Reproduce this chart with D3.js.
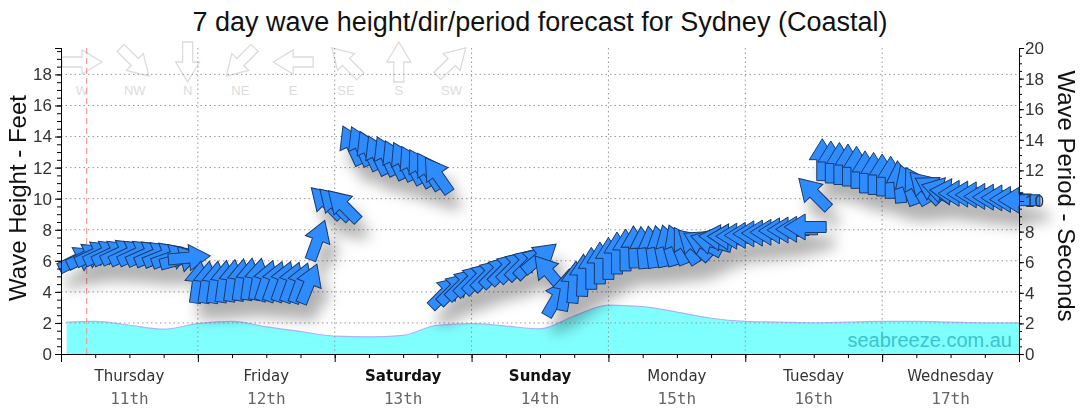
<!DOCTYPE html>
<html>
<head>
<meta charset="utf-8">
<style>
  body { margin: 0; background: #fff; }
  svg { display: block; font-family: "Liberation Sans", Arial, sans-serif; }
</style>
</head>
<body>
<svg id="chart" width="1080" height="414"></svg>
<script src="https://d3js.org/d3.v7.min.js"></script>
<script>
'use strict';

// ---- data ----
var days = ['Thursday', 'Friday', 'Saturday', 'Sunday', 'Monday', 'Tuesday', 'Wednesday'];
var dates = ['11th', '12th', '13th', '14th', '15th', '16th', '17th'];
var boldDays = ['Saturday', 'Sunday'];

var compassLabels = ['W', 'NW', 'N', 'NE', 'E', 'SE', 'S', 'SW'];
var compassFrom = [270, 315, 0, 45, 90, 135, 180, 225];

// wave height (feet), hours from Thursday 00:00
var heightHours = [1, 6, 12, 18, 24, 30, 36, 42, 48, 54, 60, 66, 72, 78, 84, 90, 96, 102, 108, 114, 120, 126, 132, 138, 144, 150, 156, 162, 168];
var heightFeet = [2.05, 2.1, 1.85, 1.6, 1.95, 2.1, 1.75, 1.45, 1.15, 1.1, 1.2, 1.85, 1.95, 1.8, 1.62, 2.45, 3.15, 3.05, 2.7, 2.3, 2.1, 2.05, 2.0, 2.05, 2.1, 2.1, 2.05, 2.0, 2.0];

// wave period (seconds) and direction waves come from (degrees), one every 1.5 hours
var periodStep = 1.5;
var period = [
  null, null, 6.2, 6.4, 6.55, 6.6, 6.6, 6.65, 6.6, 6.6, 6.55, 6.5, 6.45, 6.35, 6.2, 6.3,
  4.7, 4.7, 4.7, 4.75, 4.8, 4.85, 4.9, 4.9, 4.8, 4.75, 4.75, 4.7, 4.65, 4.6, 7.45, 9.9,
  9.8, 9.7, 13.65, 13.6, 13.3, 13.0, 12.95, 12.7, 12.6, 12.35, 12.15, 11.95, 11.7, 4.05, 4.3, 4.6,
  4.85, 5.0, 5.2, 5.4, 5.6, 5.75, 5.9, 6.0, 6.3, 5.35, 3.7, 4.2, 4.7, 5.15, 5.6, 5.95,
  6.25, 6.6, 6.8, 7.0, 6.95, 7.0, 7.05, 7.1, 7.15, 7.1, 7.15, 7.25, 7.35, 7.6, 7.65, 7.7,
  7.75, 7.85, 7.9, 7.95, 8.05, 8.1, 8.15, 8.3, 10.5, 12.7, 12.55, 12.45, 12.35, 12.2, 11.9, 11.8,
  11.7, 11.55, 11.25, 11.05, 11.0, 10.9, 10.8, 10.7, 10.6, 10.5, 10.45, 10.4, 10.3, 10.25, 10.2, 10.1,
  10.05
];
var direction = [
  null, null, 243, 244, 245, 245, 245, 245, 245, 245, 246, 247, 248, 250, 255, 265,
  188, 188, 188, 188, 188, 188, 188, 190, 198, 200, 200, 200, 200, 202, 200, 135,
  135, 135, 155, 155, 155, 155, 155, 154, 153, 152, 150, 148, 145, 225, 225, 225,
  225, 225, 225, 225, 225, 225, 225, 225, 230, 140, 210, 190, 185, 182, 180, 180,
  180, 180, 180, 178, 175, 172, 168, 164, 158, 148, 133, 118, 105, 95, 92, 90,
  90, 90, 90, 90, 90, 90, 90, 90, 135, 180, 180, 180, 180, 180, 180, 180,
  180, 180, 175, 160, 150, 135, 120, 105, 95, 90, 90, 90, 90, 90, 90, 90,
  90
];

// ---- layout ----
var svg = d3.select('#chart');
var W = 1080, H = 414;
var plotL = 61, plotR = 1019, plotT = 48, plotB = 354;

var x = d3.scaleLinear().domain([0, 168]).range([plotL, plotR]);
var yH = d3.scaleLinear().domain([0, 19.7]).range([plotB, plotT]);
var yP = d3.scaleLinear().domain([0, 20]).range([plotB, plotT]);

var defs = svg.append('defs');
defs.append('filter')
    .attr('id', 'shadow')
    .attr('filterUnits', 'userSpaceOnUse')
    .attr('x', 0).attr('y', 0).attr('width', W).attr('height', H)
  .append('feDropShadow')
    .attr('dx', 8).attr('dy', 16).attr('stdDeviation', 7)
    .attr('flood-color', '#000').attr('flood-opacity', 0.3);

// arrow pointing up, centred on origin
var arrowShape = 'M-5.5,21L5.5,21L5.5,0L13,0L0,-21L-13,0L-5.5,0Z';
var legendShape = 'M-5,20L5,20L5,0L12,0L0,-20L-12,0L-5,0Z';

// title
svg.append('text')
    .attr('x', 540).attr('y', 31)
    .attr('text-anchor', 'middle')
    .style('font-size', '27px').style('fill', '#111')
    .text('7 day wave height/dir/period forecast for Sydney (Coastal)');

// compass legend
var legend = svg.append('g');
compassLabels.forEach(function(lab, k) {
  var cx = 82 + k * 52.8;
  legend.append('path')
      .attr('d', legendShape)
      .attr('transform', 'translate(' + cx + ',62) rotate(' + (compassFrom[k] + 180) + ')')
      .attr('fill', 'none').attr('stroke', '#dcdcdc').attr('stroke-width', 1.3);
  legend.append('text')
      .attr('x', cx).attr('y', 95)
      .attr('text-anchor', 'middle')
      .style('font-size', '13px').style('fill', '#dcdcdc')
      .text(lab);
});

// wave height area
var heights = heightHours.map(function(h, i) { return { h: h, v: heightFeet[i] }; });
var area = d3.area()
    .x(function(d) { return x(d.h); })
    .y0(plotB)
    .y1(function(d) { return yH(d.v); })
    .curve(d3.curveMonotoneX);
var line = d3.line()
    .x(function(d) { return x(d.h); })
    .y(function(d) { return yH(d.v); })
    .curve(d3.curveMonotoneX);
svg.append('path').datum(heights).attr('d', area).attr('fill', '#80ffff');
svg.append('path').datum(heights).attr('d', line)
    .attr('fill', 'none').attr('stroke', '#a9b4ff').attr('stroke-width', 1.2);

// grid
var grid = svg.append('g').attr('stroke', '#999').attr('stroke-dasharray', '1.5,3').attr('stroke-width', 1);
d3.range(2, 19, 2).forEach(function(v) {
  grid.append('line').attr('x1', plotL).attr('x2', plotR).attr('y1', yH(v)).attr('y2', yH(v));
});
d3.range(24, 168, 24).forEach(function(h) {
  grid.append('line').attr('x1', x(h)).attr('x2', x(h)).attr('y1', plotT).attr('y2', plotB);
});

// now line
svg.append('line')
    .attr('x1', x(4.5)).attr('x2', x(4.5)).attr('y1', plotT).attr('y2', plotB)
    .attr('stroke', '#f59a9a').attr('stroke-width', 1.2).attr('stroke-dasharray', '6,4');

// watermark
svg.append('text')
    .attr('x', 1012).attr('y', 347)
    .attr('text-anchor', 'end')
    .style('font-size', '20px').style('fill', '#3cc4cc')
    .text('seabreeze.com.au');

// arrows
var arrows = period.map(function(p, i) {
  return { h: i * periodStep, p: p, dir: direction[i] };
}).filter(function(d) { return d.p != null; });

svg.append('g')
    .attr('filter', 'url(#shadow)')
  .selectAll('path')
  .data(arrows)
  .join('path')
    .attr('d', arrowShape)
    .attr('transform', function(d) {
      return 'translate(' + x(d.h) + ',' + yP(d.p) + ') rotate(' + (d.dir + 180) + ')';
    })
    .attr('fill', '#2f8cff')
    .attr('stroke', '#1b3a66')
    .attr('stroke-width', 1)
    .attr('stroke-linejoin', 'miter');

// axes
function styleAxis(g, size) {
  g.selectAll('text').style('font-size', size).style('fill', '#333')
    .style('font-family', '"Liberation Sans", Arial, sans-serif');
  g.selectAll('line').attr('stroke', '#000');
  g.select('.domain').attr('stroke', '#000');
}

svg.append('g').attr('transform', 'translate(' + plotL + ',0)')
    .call(d3.axisLeft(yH).tickValues(d3.range(0, 19.6, 0.5)).tickSize(4).tickFormat(''))
    .call(styleAxis, '17px');
svg.append('g').attr('transform', 'translate(' + plotL + ',0)')
    .call(d3.axisLeft(yH).tickValues(d3.range(0, 19, 2)).tickSize(6).tickPadding(3))
    .call(styleAxis, '17px');

svg.append('g').attr('transform', 'translate(' + plotR + ',0)')
    .call(d3.axisRight(yP).tickValues(d3.range(0, 20.1, 0.5)).tickSize(3).tickFormat(''))
    .call(styleAxis, '17px');
svg.append('g').attr('transform', 'translate(' + plotR + ',0)')
    .call(d3.axisRight(yP).tickValues(d3.range(0, 21, 2)).tickSize(5).tickPadding(1))
    .call(styleAxis, '17px');

svg.append('g').attr('transform', 'translate(0,' + plotB + ')')
    .call(d3.axisBottom(x).tickValues(d3.range(0, 169, 6)).tickSize(4).tickFormat('').tickSizeOuter(0))
    .call(styleAxis, '14px');
svg.append('g').attr('transform', 'translate(0,' + plotB + ')')
    .call(d3.axisBottom(x).tickValues(d3.range(0, 169, 24)).tickSize(8).tickFormat('').tickSizeOuter(0))
    .call(styleAxis, '14px');

// day labels
days.forEach(function(d, k) {
  var cx = x(12 + k * 24);
  var bold = boldDays.indexOf(d) >= 0;
  svg.append('text')
      .attr('x', cx).attr('y', 381)
      .attr('text-anchor', 'middle')
      .style('font-family', '"DejaVu Sans", Verdana, sans-serif')
      .style('font-size', '15px')
      .style('font-weight', bold ? 'bold' : 'normal')
      .style('fill', bold ? '#111' : '#333')
      .text(d);
  svg.append('text')
      .attr('x', cx).attr('y', 404)
      .attr('text-anchor', 'middle')
      .style('font-family', '"DejaVu Sans Mono", monospace')
      .style('font-size', '16px')
      .style('fill', '#666')
      .text(dates[k]);
});

// axis titles
svg.append('text')
    .attr('transform', 'translate(26,198) rotate(-90)')
    .attr('text-anchor', 'middle')
    .style('font-size', '24px').style('fill', '#111')
    .text('Wave Height - Feet');
svg.append('text')
    .attr('transform', 'translate(1058,196) rotate(90)')
    .attr('text-anchor', 'middle')
    .style('font-size', '24px').style('fill', '#111')
    .text('Wave Period - Seconds');
</script>
</body>
</html>
